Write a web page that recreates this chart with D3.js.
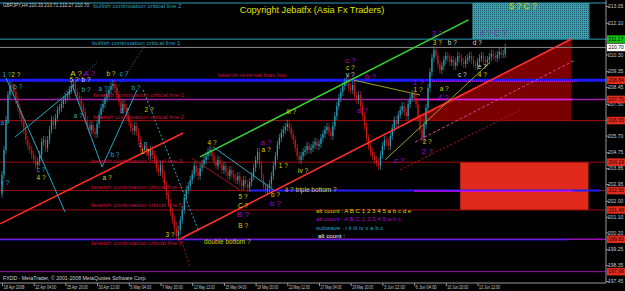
<!DOCTYPE html>
<html>
<head>
<meta charset="utf-8">
<script src="https://cdn.jsdelivr.net/npm/d3@7"></script>
<style>
body { margin: 0; background: #000; }
svg { display: block; }
text { font-family: "Liberation Sans", Arial, sans-serif; }
</style>
</head>
<body>
<svg id="chart" width="625" height="291"></svg>
<script>
// H4 closes, GBPJPY, 18 Apr - 13 Jun 2008
var firstOpen = 202.40;
var closes = [
	203.47, 204.89, 206.59, 208.00, 208.57, 208.40, 208.17, 207.72, 207.27, 206.87,
	206.47, 206.02, 205.45, 205.11, 204.89, 204.60, 204.32, 204.03, 204.21, 204.60,
	205.34, 205.45, 205.00, 205.45, 206.02, 206.59, 206.30, 206.70, 207.15, 207.27,
	207.49, 207.72, 207.89, 208.00, 208.29, 208.51, 208.63, 208.17, 207.95, 207.72,
	207.38, 207.04, 206.59, 206.25, 206.02, 206.30, 205.91, 205.79, 206.36, 206.87,
	207.27, 207.49, 207.83, 208.06, 208.29, 208.51, 208.63, 208.40, 208.00, 207.61,
	207.15, 207.49, 207.27, 206.81, 206.47, 206.13, 205.96, 206.25, 205.91, 205.45,
	205.00, 204.89, 205.11, 204.77, 204.55, 204.89, 204.60, 204.32, 203.87, 203.64,
	204.03, 203.47, 202.90, 202.33, 201.88, 201.37, 200.92, 200.46, 200.01, 200.35,
	200.92, 201.48, 202.16, 202.62, 202.84, 203.18, 203.52, 203.98, 203.64, 203.41,
	203.87, 204.09, 204.32, 204.55, 204.77, 204.89, 204.55, 204.21, 203.98, 204.32,
	204.09, 203.75, 203.98, 203.64, 203.41, 203.75, 203.52, 203.30, 203.18, 203.41,
	203.07, 202.84, 203.18, 202.96, 202.73, 203.07, 203.41, 203.87, 204.32, 204.77,
	204.03, 203.30, 202.84, 202.62, 202.73, 202.96, 203.41, 203.98, 204.55, 205.17,
	205.57, 205.85, 206.02, 206.19, 206.36, 206.13, 205.79, 205.45, 205.00, 204.55,
	204.32, 204.55, 204.77, 204.89, 205.11, 204.89, 205.00, 205.17, 205.34, 205.11,
	205.23, 205.57, 205.79, 206.02, 206.19, 205.91, 205.68, 206.25, 206.81, 207.38,
	207.83, 208.17, 208.51, 208.74, 208.85, 208.40, 208.29, 208.57, 207.95, 207.72,
	208.00, 207.38, 206.81, 206.25, 205.57, 205.11, 204.77, 204.55, 204.32, 204.15,
	203.98, 204.60, 205.11, 205.45, 205.34, 205.11, 205.68, 206.13, 206.59, 206.36,
	206.87, 207.15, 207.38, 207.04, 206.81, 207.49, 207.83, 208.06, 207.83, 207.49,
	206.70, 206.02, 205.57, 206.30, 207.27, 208.40, 209.31, 210.10, 210.56, 210.22,
	209.76, 209.42, 209.65, 209.99, 210.22, 210.10, 209.87, 209.99, 209.65, 209.87,
	210.22, 210.10, 209.87, 209.76, 209.99, 210.10, 210.22, 209.99, 209.76, 209.65,
	209.87, 210.10, 210.22, 209.99, 209.87, 209.99, 210.16, 210.33, 210.22, 210.10,
	210.27, 210.44, 210.33, 210.33, 210.70
];

var tickBars = [0, 16, 32, 48, 64, 80, 96, 112, 128, 144, 160, 176, 192, 208, 224, 240];
var tickLabels = ["18 Apr 2008", "22 Apr 04:00", "25 Apr 20:00", "30 Apr 12:00", "5 May 04:00",
	"7 May 20:00", "12 May 12:00", "15 May 04:00", "19 May 20:00", "22 May 12:00", "27 May 04:00",
	"29 May 20:00", "3 Jun 12:00", "6 Jun 04:00", "10 Jun 20:00", "13 Jun 12:00"];

var priceTicks = [213.05, 212.10, 211.20, 210.30, 209.35, 208.45, 207.50, 206.60, 205.70, 204.75,
	203.85, 202.95, 202.00, 201.10, 200.20, 199.25, 198.35, 197.45];

// horizontal levels
var levelPrices = [213.22, 211.17, 210.70, 208.84, 207.75, 206.55, 204.19, 202.58, 201.48, 199.82, 197.98];
var levelNames = ["bullish continuation critical line 2", "bullish continuation critical line 1", "",
	"bearish reversal bias line", "bearish continuation critical line 1", "bearish continuation critical line 2",
	"bearish continuation critical line 3", "bearish continuation critical line 4",
	"bearish continuation critical line 5", "bearish continuation critical line 6", ""];

// wave count labels: text, bar, price, colour key
var waveLabels = [
	["1 ?", 2.5, 209.14, "c"], ["2 ?", 7, 209.14, "y"], ["b ?", 8, 208.45, "c"],
	["A ?", 37.4, 209.25, "Y"], ["A ?", 44, 209.25, "P"], ["5 ?", 36.4, 208.85, "y"], ["b ?", 42.4, 208.85, "w"],
	["b ?", 42.4, 208.29, "c"], ["a ?", 51, 208.34, "c"], ["b ?", 55, 209.19, "y"], ["c ?", 61.6, 209.19, "c"],
	["b ?", 67.7, 208.40, "c"], ["a ?", 1.5, 206.42, "c"], ["a ?", 38.4, 206.80, "c"], ["a ?", 62, 207.10, "c"],
	["2 ?", 74.2, 207.15, "y"], ["b ?", 57, 204.60, "c"], ["c ?", 71.2, 205.17, "c"], ["1 ?", 72.2, 204.77, "y"],
	["c ?", 19.7, 203.75, "c"], ["4 ?", 19.7, 203.30, "y"], ["a ?", 53, 203.30, "y"], ["v ?", 1.5, 203.01, "c"],
	["3 ?", 84.8, 200.07, "y"], ["4 ?", 106, 205.28, "y"], ["a ?", 133.3, 205.34, "P"], ["a ?", 133.3, 204.89, "y"],
	["iii ?", 146, 207.04, "y"], ["1 ?", 142, 203.98, "y"], ["iv ?", 152, 203.69, "y"], ["a ?", 181.8, 207.15, "P"],
	["c ?", 200.5, 204.32, "P"], ["5 ?", 121.7, 202.22, "y"], ["C ?", 121.7, 201.71, "y"], ["B ?", 121.7, 201.26, "P"],
	["B ?", 121.7, 200.58, "y"], ["b ?", 138, 202.33, "y"], ["b ?", 138, 201.88, "P"],
	["c ?", 175.8, 209.99, "P"], ["c ?", 175.8, 209.54, "y"], ["v ?", 175.8, 209.14, "w"], ["b ?", 185.9, 209.08, "P"],
	["3 ?", 219.7, 211.52, "P"], ["3 ?", 219.7, 210.95, "y"], ["b ?", 227.3, 210.95, "w"], ["d ?", 239.9, 210.95, "w"],
	["e ?", 242.4, 209.59, "w"], ["c ?", 232.3, 209.14, "w"], ["4 ?", 242.4, 209.14, "y"],
	["1 ?", 210, 208.74, "P"], ["1 ?", 210, 208.29, "y"], ["a ?", 223.2, 208.34, "y"], ["4 ?", 222.7, 207.89, "P"],
	["2 ?", 214.6, 205.34, "y"], ["2 ?", 214.6, 204.83, "P"]
];

var W = 625, H = 291;
var plotRight = 606, plotBottom = 283;

var x = d3.scaleLinear().domain([0, 16]).range([2, 33.7]);
var y = d3.scaleLinear().domain([197.45, 213.05]).range([281, 6]);

var colors = { y: "#d4d400", Y: "#d4d400", P: "#b000c8", c: "#22a8c8", w: "#d8d8d8" };

var svg = d3.select("#chart");
svg.append("rect").attr("width", W).attr("height", H).attr("fill", "#000");

var defs = svg.append("defs");
defs.append("clipPath").attr("id", "plot").append("rect")
	.attr("x", 0).attr("y", 0).attr("width", plotRight).attr("height", plotBottom);
var pat = defs.append("pattern").attr("id", "dots").attr("width", 2).attr("height", 2)
	.attr("patternUnits", "userSpaceOnUse");
pat.append("rect").attr("width", 2).attr("height", 2).attr("fill", "#3c9fb0");
pat.append("rect").attr("width", 1).attr("height", 1).attr("fill", "#1c5a68");

var g = svg.append("g").attr("clip-path", "url(#plot)");

// zones
g.append("rect")
	.attr("x", x(237.4)).attr("y", y(213.22))
	.attr("width", x(296.5) - x(237.4)).attr("height", y(211.17) - y(213.22))
	.attr("fill", "url(#dots)");
g.append("path")
	.attr("d", "M" + x(205) + "," + y(206.55) + "L" + x(287.4) + "," + y(211.17) + "L" + x(287.4) + "," + y(206.55) + "Z")
	.attr("fill", "#7a0000");
g.append("rect")
	.attr("x", x(231.3)).attr("y", y(204.19))
	.attr("width", x(296) - x(231.3)).attr("height", y(201.48) - y(204.19))
	.attr("fill", "#e02a1c");

// horizontal levels
var levelColor = ["#2a9fb8", "#2a9fb8", "#8a8a8a", "#1a1aff", "#a020a8", "#a01010", "#a01010", "#a01010", "#a01010", "#9a10b0", "#9a10b0"];
var levelWidth = [1, 1, 1, 3, 1.5, 1, 1, 1, 1, 1.5, 1];
levelPrices.forEach(function(p, k) {
	g.append("line")
		.attr("x1", 0).attr("x2", plotRight)
		.attr("y1", y(p)).attr("y2", y(p))
		.attr("stroke", levelColor[k]).attr("stroke-width", levelWidth[k]);
});
// blue segment on line 4 and dotted blue on line 6
g.append("line").attr("x1", x(125)).attr("x2", x(302)).attr("y1", y(202.58)).attr("y2", y(202.58))
	.attr("stroke", "#2020ff").attr("stroke-width", 2);
g.append("line").attr("x1", x(208)).attr("x2", x(288)).attr("y1", y(202.55)).attr("y2", y(202.55))
	.attr("stroke", "#ff00ff").attr("stroke-width", 1);
g.append("line").attr("x1", 0).attr("x2", x(286)).attr("y1", y(199.78)).attr("y2", y(199.78))
	.attr("stroke", "#3030ff").attr("stroke-width", 1).attr("stroke-dasharray", "1,1");
g.append("line").attr("x1", x(208)).attr("x2", x(288)).attr("y1", y(207.75)).attr("y2", y(207.75))
	.attr("stroke", "#e020e0").attr("stroke-width", 1.5);
g.append("line").attr("x1", x(217)).attr("x2", x(290)).attr("y1", y(208.78)).attr("y2", y(208.78))
	.attr("stroke", "#e020e0").attr("stroke-width", 1).attr("stroke-dasharray", "1,1");

// trendlines: bar1, price1, bar2, price2
var trendLines = [
	[100, 204.49, 235.4, 212.26],
	[88.9, 199.78, 287.4, 211.18],
	[-1, 200.69, 91.4, 205.85],
	[2, 208.97, 31.8, 201.37],
	[6.6, 205.62, 35.4, 208.29],
	[35.4, 208.57, 50.5, 203.92],
	[50.5, 203.92, 68.2, 208.29],
	[71.2, 208.29, 99, 200.35],
	[106.6, 205.06, 136.9, 202.62],
	[96, 204.40, 120, 202.62],
	[177.3, 208.85, 211.1, 208.00],
	[193.4, 204.32, 246.5, 209.87],
	[208.6, 205.34, 289.4, 209.99],
	[201, 203.75, 261.6, 207.15],
	[81.3, 203.18, 95, 198.19],
	[28, 207.72, 48, 209.87],
	[54.5, 207.72, 72.2, 210.84]
];
var tlColor = ["#33d633", "#ff3030", "#ff2828", "#22a8c8", "#22a8c8", "#22a8c8", "#22a8c8", "#22a8c8",
	"#22a8c8", "#a01818", "#a0a020", "#a0a020", "#e040a0", "#b01818", "#a01818", "#3a7a9a", "#3a7a9a"];
var tlWidth = [1.5, 1.6, 1.6, 1, 1, 1, 1, 1, 1, 1, 1, 1, 1, 1, 1, 1, 1];
var tlDash = [null, null, null, null, null, null, null, "2,2", null, null, null, null, "3,2", "2,2", "2,2", "1,2", "1,2"];

// candles
var bars = closes.map(function(c, i) {
	return { i: i, o: i === 0 ? firstOpen : closes[i - 1], c: c };
});
var candle = g.append("g").selectAll("g").data(bars).enter().append("g");
candle.append("line")
	.attr("x1", function(d) { return x(d.i); }).attr("x2", function(d) { return x(d.i); })
	.attr("y1", function(d) { return y(Math.max(d.o, d.c)) - 4; })
	.attr("y2", function(d) { return y(Math.min(d.o, d.c)) + 4; })
	.attr("stroke", function(d) { return d.c >= d.o ? "#2a9fba" : "#c81818"; })
	.attr("stroke-width", 0.7);
candle.append("rect")
	.attr("x", function(d) { return x(d.i) - 0.6; })
	.attr("width", 1.2)
	.attr("y", function(d) { return y(Math.max(d.o, d.c)); })
	.attr("height", function(d) { return Math.max(0.8, Math.abs(y(d.o) - y(d.c))); })
	.attr("fill", function(d) { return d.c >= d.o ? "#2a9fba" : "#c81818"; });

trendLines.forEach(function(t, k) {
	g.append("line")
		.attr("x1", x(t[0])).attr("y1", y(t[1]))
		.attr("x2", x(t[2])).attr("y2", y(t[3]))
		.attr("stroke", tlColor[k]).attr("stroke-width", tlWidth[k])
		.attr("stroke-dasharray", tlDash[k]);
});

// level names
var nameColor = ["#2a9fb8", "#2a9fb8", "", "#c0103a", "#c0103a", "#c0103a", "#c0103a", "#c0103a", "#c0103a", "#c0103a", ""];
var nameBar = [46, 45.5, 0, 109, 46, 46, 45, 45, 45, 45, 0];
var nameDy = [5, 6, 0, -3, -2, -1.5, 1, -2, -2.5, 6, 0];
levelPrices.forEach(function(p, k) {
	if (!levelNames[k]) return;
	g.append("text")
		.attr("x", x(nameBar[k])).attr("y", y(p) + nameDy[k])
		.attr("font-size", 6.2).attr("fill", nameColor[k])
		.text(levelNames[k]);
});

// wave labels
g.append("g").selectAll("text").data(waveLabels).enter().append("text")
	.attr("x", function(d) { return x(d[1]); })
	.attr("y", function(d) { return y(d[2]); })
	.attr("dy", "0.35em")
	.attr("text-anchor", "middle")
	.attr("font-size", function(d) { return d[3] === "Y" || d[3] === "P" ? 8 : 6.5; })
	.attr("fill", function(d) { return colors[d[3]]; })
	.text(function(d) { return d[0]; });

var notes = g.append("g");
notes.append("text").attr("x", x(143)).attr("y", y(202.62)).attr("dy", "0.35em")
	.attr("font-size", 6.5).attr("fill", colors.y).text("ii ? triple bottom ?");
notes.append("text").attr("x", x(102)).attr("y", y(199.69)).attr("dy", "0.35em")
	.attr("font-size", 6.5).attr("fill", colors.y).text("double bottom ?");
notes.append("text").attr("x", x(263)).attr("y", y(213.05)).attr("dy", "0.35em").attr("text-anchor", "middle")
	.attr("font-size", 8.5).attr("fill", colors.y).text("5 ? C ?");
notes.append("text").attr("x", x(248)).attr("y", y(211.52)).attr("dy", "0.35em").attr("text-anchor", "middle")
	.attr("font-size", 8.5).attr("fill", "#8030a0").text("4 ? C ?");

var counts = [
	["alt count : A B C 1 2 3 4 5 a b c d e", "#d4d400", 201.45],
	["alt count : A B C 1 2 3 4 5 a b c", "#b000c8", 201.00],
	["subwave : i ii iii iv v a b c", "#22a8c8", 200.49],
	["alt count :", "#ffffff", 200.03]
];
counts.forEach(function(c, k) {
	notes.append("text").attr("x", x(158.5) + (k === 3 ? 2 : 0)).attr("y", y(c[2])).attr("dy", "0.35em")
		.attr("font-size", 6.2).attr("fill", c[1]).text(c[0]);
});

// header, copyright, footer
svg.append("text").attr("x", 3).attr("y", 7).attr("font-size", 5.2).attr("fill", "#d0d0d0")
	.attr("textLength", 86).attr("lengthAdjust", "spacingAndGlyphs")
	.text("GBPJPY,H4 210.33 210.71 210.27 210.70");
svg.append("text").attr("x", 312).attr("y", 13).attr("text-anchor", "middle")
	.attr("font-size", 9.2).attr("fill", "#e0e000").text("Copyright Jebatfx (Asia Fx Traders)");
svg.append("text").attr("x", 3).attr("y", 280).attr("font-size", 5.2).attr("fill", "#d0d0d0")
	.text("FXDD - MetaTrader, \u00a9 2001-2008 MetaQuotes Software Corp.");

// axes
var yAxis = svg.append("g").attr("transform", "translate(" + plotRight + ",0)")
	.call(d3.axisRight(y).tickValues(priceTicks).tickSize(3).tickFormat(d3.format(".2f")));
yAxis.select(".domain").attr("stroke", "#9a9a9a").attr("d", "M0,0V" + plotBottom);
yAxis.selectAll(".tick line").attr("stroke", "#9a9a9a");
yAxis.selectAll("text").attr("x", 2).attr("font-size", 5).attr("fill", "#c8c8c8")
	.attr("font-family", "Liberation Sans, Arial, sans-serif");

var xAxis = svg.append("g").attr("transform", "translate(0," + plotBottom + ")")
	.call(d3.axisBottom(x).tickValues(tickBars).tickSize(3)
		.tickFormat(function(d, k) { return tickLabels[k]; }));
xAxis.select(".domain").attr("stroke", "#9a9a9a").attr("d", "M0,0H" + plotRight);
xAxis.selectAll(".tick line").attr("stroke", "#9a9a9a");
xAxis.selectAll("text").attr("text-anchor", "start").attr("x", 1).attr("y", 2.5)
	.attr("font-size", 5).attr("fill", "#c8c8c8")
	.attr("textLength", 21).attr("lengthAdjust", "spacingAndGlyphs")
	.attr("font-family", "Liberation Sans, Arial, sans-serif");

// price boxes on the axis
var boxPrices = [211.17, 210.70, 208.84, 207.75, 206.55, 204.19, 202.58, 201.48, 199.82, 197.98];
var boxFill = ["#10c010", "#ffffff", "#e02a1c", "#e02a1c", "#e02a1c", "#e02a1c", "#e02a1c", "#e02a1c", "#e02a1c", "#e02a1c"];
var box = svg.append("g").selectAll("g").data(boxPrices).enter().append("g")
	.attr("transform", function(p) { return "translate(" + (plotRight + 1) + "," + y(p) + ")"; });
box.append("rect").attr("x", 0).attr("y", -3.8).attr("width", 18).attr("height", 7.6)
	.attr("fill", function(p, k) { return boxFill[k]; });
box.append("text").attr("x", 1.5).attr("dy", "0.35em").attr("font-size", 5)
	.attr("fill", function(p, k) { return k < 2 ? "#000" : "#300"; })
	.text(function(p) { return p.toFixed(2); });
</script>
</body>
</html>
